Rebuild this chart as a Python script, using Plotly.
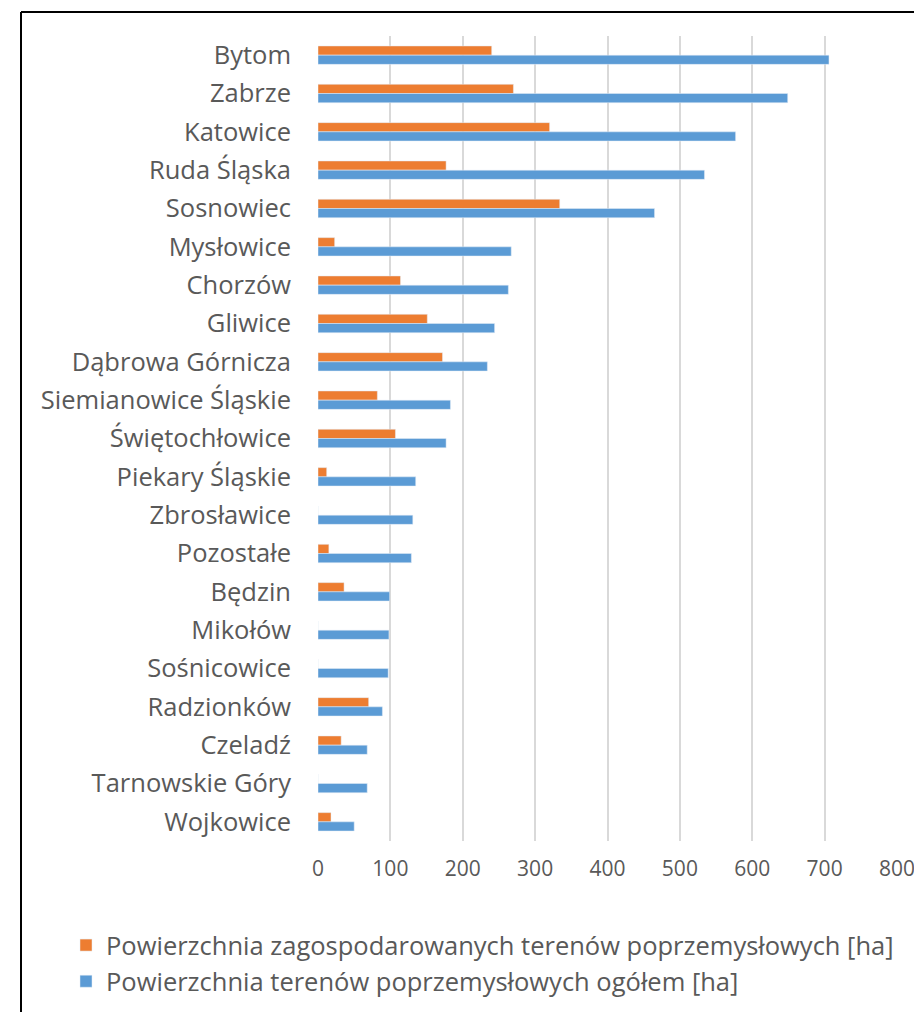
import plotly.graph_objects as go

miasta = ["Bytom", "Zabrze", "Katowice", "Ruda Śląska", "Sosnowiec", "Mysłowice",
          "Chorzów", "Gliwice", "Dąbrowa Górnicza", "Siemianowice Śląskie",
          "Świętochłowice", "Piekary Śląskie", "Zbrosławice", "Pozostałe", "Będzin",
          "Mikołów", "Sośnicowice", "Radzionków", "Czeladź", "Tarnowskie Góry", "Wojkowice"]
zagospodarowane = [240, 270, 320, 177, 334, 23, 114, 151, 172, 82, 107, 12, 0, 15, 36,
                   0, 0, 70, 32, 0, 18]
ogolem = [706, 649, 577, 534, 465, 267, 263, 244, 234, 183, 177, 135, 131, 129, 99,
          98, 97, 89, 68, 68, 50]

nazwa_z = "Powierzchnia zagospodarowanych terenów poprzemysłowych [ha]"
nazwa_o = "Powierzchnia terenów poprzemysłowych ogółem [ha]"

# strona ma 8px marginesu, więc wykres jest o 8px mniejszy
W, H = 914, 1004
L, R, T, B = 310, 25, 28, 171
pw, ph = W - L - R, H - T - B
tekst = "#595959"
czcionka = "'Open Sans', sans-serif"

fig = go.Figure()
fig.add_trace(go.Bar(y=miasta, x=zagospodarowane, orientation="h", name=nazwa_z,
                     marker=dict(color="#ED7D31")))
fig.add_trace(go.Bar(y=miasta, x=ogolem, orientation="h", name=nazwa_o,
                     marker=dict(color="#5B9BD5")))

# ramka wokół całego wykresu (widać lewą i górną krawędź)
x0 = (13 - L) / pw
y0 = (H - B - 4) / ph
fig.add_shape(type="line", xref="paper", yref="paper", x0=x0, x1=x0, y0=y0, y1=-2,
              line=dict(color="black", width=2))
fig.add_shape(type="line", xref="paper", yref="paper", x0=x0, x1=3, y0=y0, y1=y0,
              line=dict(color="black", width=2))

fig.update_layout(
    width=W, height=H,
    margin=dict(l=L, r=R, t=T, b=B, autoexpand=False),
    barmode="group", bargap=0.52, bargroupgap=0,
    plot_bgcolor="white", paper_bgcolor="white",
    font=dict(family=czcionka, color=tekst),
    xaxis=dict(range=[0, 800], dtick=100, showgrid=True, gridcolor="#d9d9d9",
               gridwidth=1.5, zeroline=False, showline=False, automargin=False,
               tickfont=dict(size=21, color=tekst), ticklabelstandoff=13),
    yaxis=dict(autorange="reversed", showgrid=False, showline=False, automargin=False,
               tickfont=dict(size=25.5, color=tekst), ticklabelstandoff=26),
    legend=dict(x=(58 - L) / pw, y=(H - B - 914) / ph, xanchor="left", yanchor="top",
                font=dict(size=25.5, color=tekst), traceorder="normal",
                itemwidth=30, tracegroupgap=0),
    showlegend=True,
)

fig.write_html("out.html")
